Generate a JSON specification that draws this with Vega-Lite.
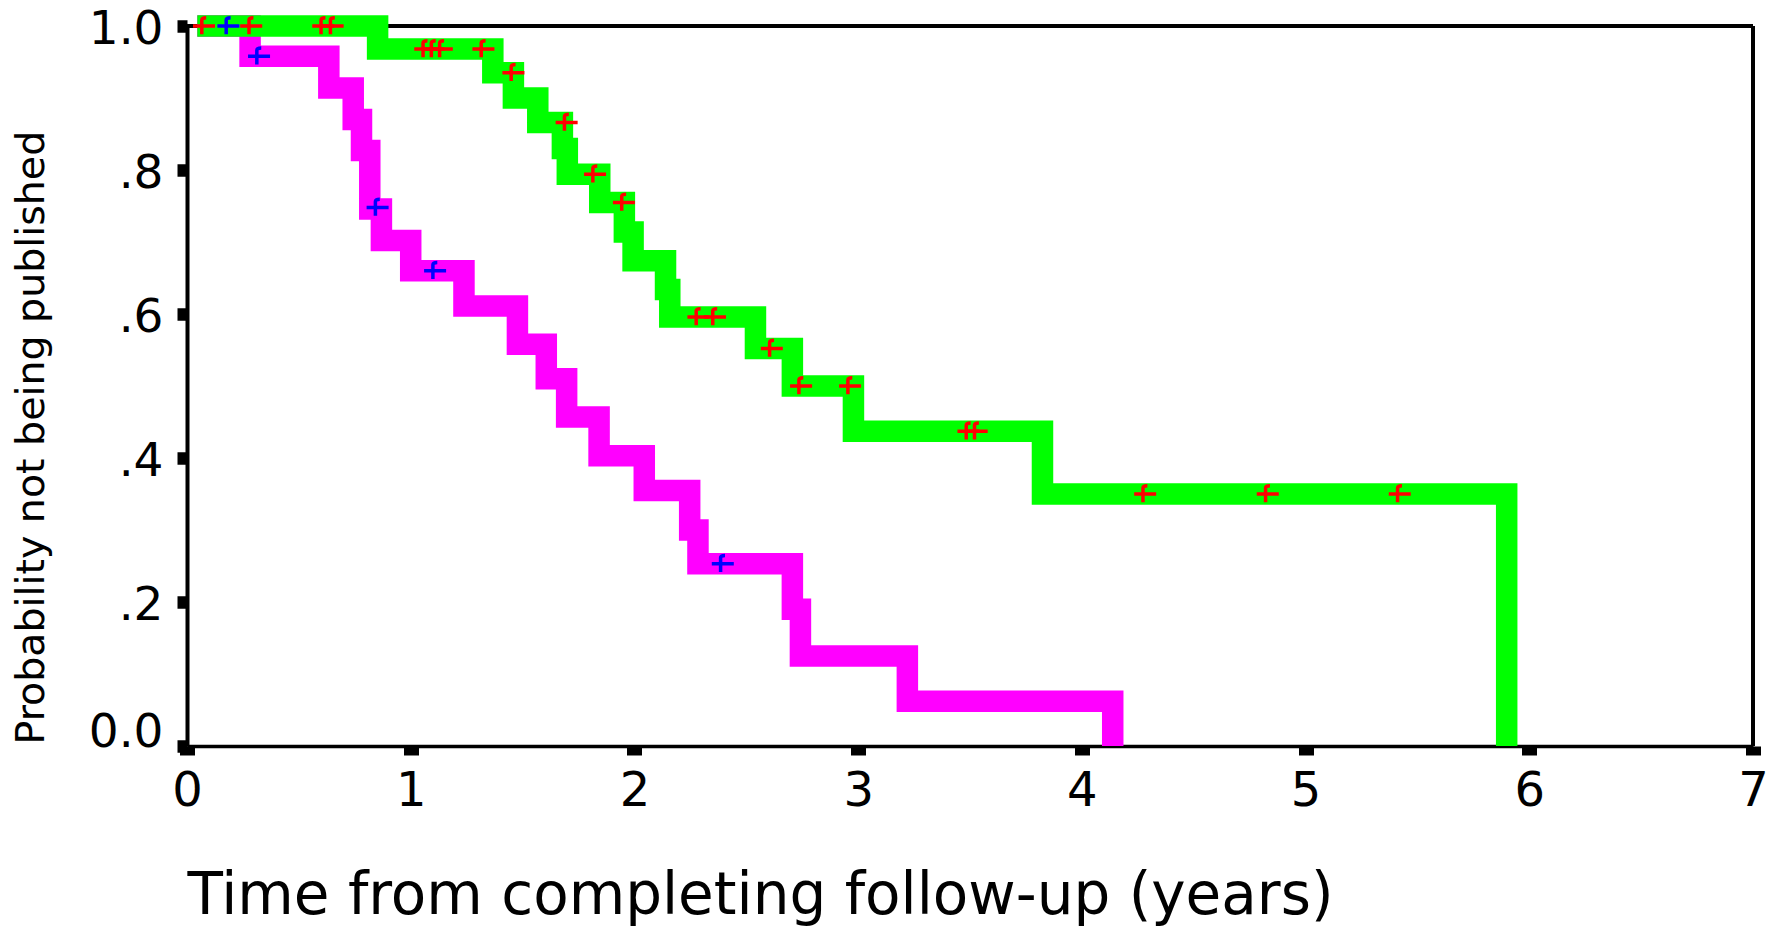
{
  "$schema": "https://vega.github.io/schema/vega-lite/v6.json",
  "width": 1566,
  "height": 720,
  "autosize": "none",
  "padding": {"left": 187, "top": 26, "right": 29, "bottom": 180},
  "background": "white",
  "config": {"view": {"stroke": null}, "font": "DejaVu Sans"},
  "datasets": {
    "curves": [
      {"group": "A", "t": 0.046, "v": 1.0},
      {"group": "A", "t": 0.852, "v": 0.968},
      {"group": "A", "t": 1.367, "v": 0.935},
      {"group": "A", "t": 1.459, "v": 0.900},
      {"group": "A", "t": 1.568, "v": 0.866},
      {"group": "A", "t": 1.678, "v": 0.830},
      {"group": "A", "t": 1.700, "v": 0.794},
      {"group": "A", "t": 1.845, "v": 0.755},
      {"group": "A", "t": 1.955, "v": 0.714},
      {"group": "A", "t": 1.994, "v": 0.674},
      {"group": "A", "t": 2.139, "v": 0.634},
      {"group": "A", "t": 2.158, "v": 0.596},
      {"group": "A", "t": 2.541, "v": 0.552},
      {"group": "A", "t": 2.706, "v": 0.500},
      {"group": "A", "t": 2.979, "v": 0.437},
      {"group": "A", "t": 3.824, "v": 0.350},
      {"group": "A", "t": 5.899, "v": 0.0},
      {"group": "B", "t": 0.046, "v": 1.0},
      {"group": "B", "t": 0.282, "v": 0.958},
      {"group": "B", "t": 0.634, "v": 0.914},
      {"group": "B", "t": 0.743, "v": 0.870},
      {"group": "B", "t": 0.780, "v": 0.827},
      {"group": "B", "t": 0.817, "v": 0.746},
      {"group": "B", "t": 0.869, "v": 0.702},
      {"group": "B", "t": 1.000, "v": 0.660},
      {"group": "B", "t": 1.238, "v": 0.611},
      {"group": "B", "t": 1.477, "v": 0.558},
      {"group": "B", "t": 1.606, "v": 0.510},
      {"group": "B", "t": 1.697, "v": 0.457},
      {"group": "B", "t": 1.842, "v": 0.403},
      {"group": "B", "t": 2.044, "v": 0.355},
      {"group": "B", "t": 2.247, "v": 0.300},
      {"group": "B", "t": 2.284, "v": 0.253},
      {"group": "B", "t": 2.706, "v": 0.190},
      {"group": "B", "t": 2.742, "v": 0.125},
      {"group": "B", "t": 3.220, "v": 0.062},
      {"group": "B", "t": 4.138, "v": 0.0}
    ],
    "censored": [
      {"group": "A", "t": 0.076, "v": 1.0},
      {"group": "A", "t": 0.287, "v": 1.0},
      {"group": "A", "t": 0.609, "v": 1.0},
      {"group": "A", "t": 0.651, "v": 1.0},
      {"group": "A", "t": 1.065, "v": 0.968},
      {"group": "A", "t": 1.102, "v": 0.968},
      {"group": "A", "t": 1.139, "v": 0.968},
      {"group": "A", "t": 1.325, "v": 0.968},
      {"group": "A", "t": 1.459, "v": 0.935},
      {"group": "A", "t": 1.697, "v": 0.866},
      {"group": "A", "t": 1.824, "v": 0.794},
      {"group": "A", "t": 1.953, "v": 0.755},
      {"group": "A", "t": 2.286, "v": 0.596},
      {"group": "A", "t": 2.360, "v": 0.596},
      {"group": "A", "t": 2.614, "v": 0.552},
      {"group": "A", "t": 2.745, "v": 0.500},
      {"group": "A", "t": 2.964, "v": 0.500},
      {"group": "A", "t": 3.493, "v": 0.437},
      {"group": "A", "t": 3.530, "v": 0.437},
      {"group": "A", "t": 4.283, "v": 0.350},
      {"group": "A", "t": 4.831, "v": 0.350},
      {"group": "A", "t": 5.421, "v": 0.350},
      {"group": "B", "t": 0.185, "v": 1.0},
      {"group": "B", "t": 0.322, "v": 0.958},
      {"group": "B", "t": 0.852, "v": 0.748},
      {"group": "B", "t": 1.109, "v": 0.660},
      {"group": "B", "t": 2.395, "v": 0.253}
    ]
  },
  "layer": [
    {
      "data": {"name": "curves"},
      "mark": {"type": "rule", "stroke": "black", "strokeWidth": 3.4},
      "encoding": {
        "y": {"datum": 1, "type": "quantitative", "scale": {"domain": [0, 1], "nice": false}, "title": "Probability not being published",
          "axis": {"values": [0, 0.2, 0.4, 0.6, 0.8, 1], "labelExpr": "datum.value == 0 ? '0.0' : datum.value == 1 ? '1.0' : substring(format(datum.value, '.1f'), 1)", "labelBaseline": {"condition": {"test": "datum.value == 0", "value": "alphabetic"}, "value": "middle"}, "labelOffset": {"condition": {"test": "datum.value == 0", "value": 0}, "value": 3}, "domainColor": "black", "domainWidth": 4, "tickColor": "black", "tickSize": 10, "tickWidth": 12.5, "tickCap": "butt", "labelFontSize": 47, "labelFont": "DejaVu Sans", "labelColor": "black", "labelPadding": 14, "labelFlush": false, "labelOverlap": false, "grid": false, "titleFont": "DejaVu Sans", "titleFontSize": 39.5, "titleFontWeight": "normal", "titleColor": "black", "titleAngle": 270, "titleAlign": "left", "titleBaseline": "alphabetic", "titleAnchor": "start", "titleX": -144, "titleY": 718}}
      }
    },
    {
      "data": {"name": "curves"},
      "mark": {"type": "rule", "stroke": "black", "strokeWidth": 3.4},
      "encoding": {
        "x": {"datum": 7, "type": "quantitative", "scale": {"domain": [0, 7], "nice": false}, "title": "Time from completing follow-up (years)",
          "axis": {"values": [0, 1, 2, 3, 4, 5, 6, 7], "format": "d", "labelExpr": "format(datum.value, 'd')", "domainColor": "black", "domainWidth": 3.4, "tickColor": "black", "tickSize": 9, "tickWidth": 15, "tickCap": "butt", "labelFontSize": 48, "labelFont": "DejaVu Sans", "labelColor": "black", "labelPadding": 12, "labelFlush": false, "labelOverlap": false, "grid": false, "titleFont": "DejaVu Sans", "titleFontSize": 58, "titleFontWeight": "normal", "titleColor": "black", "titleAnchor": "start", "titleAlign": "left", "titleBaseline": "alphabetic", "titleX": 0, "titleY": 167}}
      }
    },
    {
      "data": {"name": "curves"},
      "transform": [{"filter": "datum.group == 'B'"}],
      "mark": {"type": "line", "interpolate": "step-after", "strokeWidth": 21.5, "strokeCap": "butt", "strokeJoin": "miter", "color": "#ff00ff"},
      "encoding": {
        "x": {"field": "t", "type": "quantitative", "scale": {"domain": [0, 7], "nice": false}, "title": "Time from completing follow-up (years)"},
        "y": {"field": "v", "type": "quantitative", "scale": {"domain": [0, 1], "nice": false}, "title": "Probability not being published"}
      }
    },
    {
      "data": {"name": "curves"},
      "transform": [{"filter": "datum.group == 'A'"}],
      "mark": {"type": "line", "interpolate": "step-after", "strokeWidth": 21.5, "strokeCap": "butt", "strokeJoin": "miter", "color": "#00ff00"},
      "encoding": {
        "x": {"field": "t", "type": "quantitative", "scale": {"domain": [0, 7], "nice": false}, "title": "Time from completing follow-up (years)"},
        "y": {"field": "v", "type": "quantitative", "scale": {"domain": [0, 1], "nice": false}, "title": "Probability not being published"}
      }
    },
    {
      "data": {"name": "censored"},
      "mark": {"type": "point", "shape": "M-1,0H1M-0.2,0.75V-0.55Q-0.2,-0.75 0.2,-0.75", "filled": false, "size": 484, "strokeWidth": 3.5, "opacity": 1},
      "encoding": {
        "x": {"field": "t", "type": "quantitative", "scale": {"domain": [0, 7], "nice": false}, "title": "Time from completing follow-up (years)"},
        "y": {"field": "v", "type": "quantitative", "scale": {"domain": [0, 1], "nice": false}, "title": "Probability not being published"},
        "color": {"field": "group", "type": "nominal", "scale": {"domain": ["A", "B"], "range": ["#ff0000", "#0000ff"]}, "legend": null}
      }
    }
  ]
}
